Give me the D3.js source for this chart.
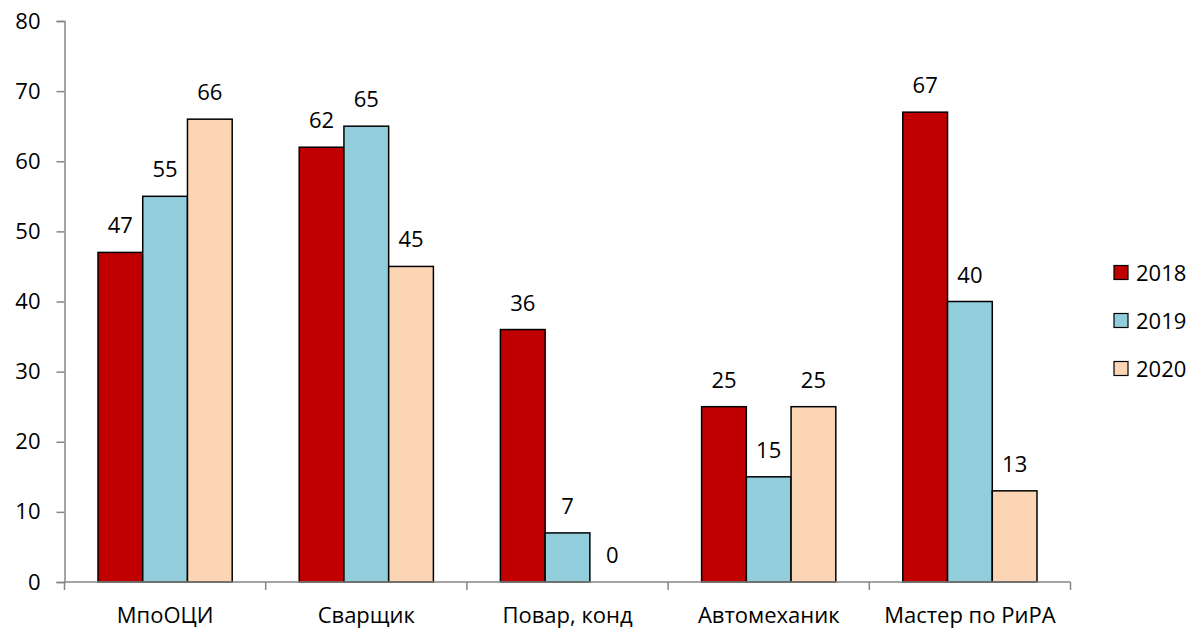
<!DOCTYPE html>
<html>
<head>
  <meta charset="utf-8">
  <title>Профессии 2018-2020</title>
  <script src="https://d3js.org/d3.v7.min.js"></script>
  <style>
    body { margin: 0; background: #FFFFFF; }
    svg { display: block; font-family: 'Open Sans', sans-serif; }
  </style>
</head>
<body>
<svg width="1192" height="629"></svg>
<script>
// data
var categories = ["МпоОЦИ", "Сварщик", "Повар, конд", "Автомеханик", "Мастер по РиРА"];
var years = ["2018", "2019", "2020"];
var values2018 = [47, 62, 36, 25, 67];
var values2019 = [55, 65, 7, 15, 40];
var values2020 = [66, 45, 0, 25, 13];
var yTicks = [0, 10, 20, 30, 40, 50, 60, 70, 80];
var colors = ["#C00000", "#92CDDC", "#FCD5B5"];

var series = [values2018, values2019, values2020];

var svg = d3.select("svg");

var x0 = d3.scaleBand()
  .domain(categories)
  .range([64.5, 1070.5])
  .paddingInner(0.333)
  .paddingOuter(0.1665);

var x1 = d3.scaleBand()
  .domain(years)
  .range([0, x0.bandwidth()]);

var y = d3.scaleLinear()
  .domain([0, 80])
  .range([582, 21]);

// bars
categories.forEach(function (c, i) {
  years.forEach(function (yr, j) {
    var v = series[j][i];
    if (v > 0) {
      svg.append("rect")
        .attr("x", x0(c) + x1(yr))
        .attr("y", y(v))
        .attr("width", x1.bandwidth())
        .attr("height", y(0) - y(v))
        .attr("fill", colors[j])
        .attr("stroke", "#000000")
        .attr("stroke-width", 1.5);
    }
    svg.append("text")
      .attr("x", x0(c) + x1(yr) + x1.bandwidth() / 2)
      .attr("y", y(v) - 19)
      .attr("text-anchor", "middle")
      .attr("font-size", "22px")
      .attr("fill", "#000000")
      .text(v);
  });
});

// y axis
var yAxis = svg.append("g")
  .attr("transform", "translate(64.5,0)")
  .call(d3.axisLeft(y).tickValues(yTicks).tickSize(8).tickPadding(16));
yAxis.select(".domain").attr("stroke", "#868686").attr("stroke-width", 1.5);
yAxis.selectAll(".tick line").attr("stroke", "#868686").attr("stroke-width", 1.5);
yAxis.selectAll(".tick text").attr("font-size", "22px").attr("font-family", "'Open Sans', sans-serif").attr("fill", "#000000");

// x axis: ticks sit on the category boundaries
var xAxis = svg.append("g")
  .attr("transform", "translate(0,582)");
xAxis.append("line")
  .attr("x1", x0.range()[0]).attr("x2", x0.range()[1])
  .attr("y1", 0).attr("y2", 0)
  .attr("stroke", "#868686").attr("stroke-width", 1.5);
var bounds = categories.map(function (c) { return x0(c) - x0.step() * x0.paddingInner() / 2; });
bounds.push(x0.range()[1]);
xAxis.selectAll(".xtick")
  .data(bounds)
  .enter().append("line")
  .attr("x1", function (d) { return d; })
  .attr("x2", function (d) { return d; })
  .attr("y1", 0).attr("y2", 8)
  .attr("stroke", "#868686").attr("stroke-width", 1.5);
xAxis.selectAll(".xlabel")
  .data(categories)
  .enter().append("text")
  .attr("x", function (d) { return x0(d) + x0.bandwidth() / 2; })
  .attr("y", 41)
  .attr("text-anchor", "middle")
  .attr("font-size", "22px")
  .text(function (d) { return d; });

// legend
var legend = svg.append("g").attr("transform", "translate(1114,0)");
years.forEach(function (yr, j) {
  var cy = 272.5 + j * 48;
  legend.append("rect")
    .attr("x", 0).attr("y", cy - 7)
    .attr("width", 14).attr("height", 14)
    .attr("fill", colors[j])
    .attr("stroke", "#000000")
    .attr("stroke-width", 1.2);
  legend.append("text")
    .attr("x", 22).attr("y", cy + 8)
    .attr("font-size", "22px")
    .text(yr);
});
</script>
</body>
</html>
